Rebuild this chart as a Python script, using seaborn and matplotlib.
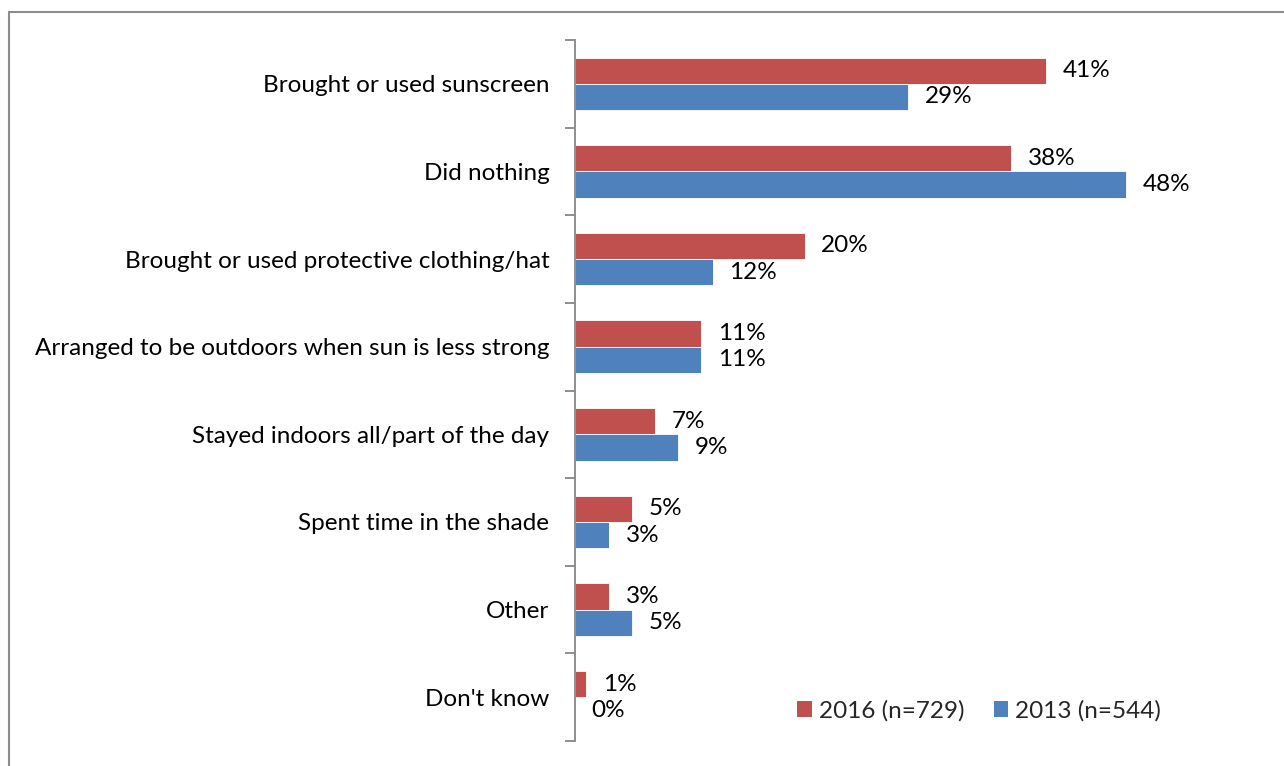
import matplotlib
matplotlib.use("Agg")
import matplotlib.pyplot as plt
import seaborn as sns
import pandas as pd
from matplotlib.patches import Rectangle, Patch

categories = [
    "Brought or used sunscreen",
    "Did nothing",
    "Brought or used protective clothing/hat",
    "Arranged to be outdoors when sun is less strong",
    "Stayed indoors all/part of the day",
    "Spent time in the shade",
    "Other",
    "Don't know",
]
series_names = ["2016 (n=729)", "2013 (n=544)"]
values_2016 = [41, 38, 20, 11, 7, 5, 3, 1]
values_2013 = [29, 48, 12, 11, 9, 3, 5, 0]
colors = ["#C0504D", "#4F81BD"]

df = pd.DataFrame({
    "category": categories * 2,
    "series": [series_names[0]] * len(categories) + [series_names[1]] * len(categories),
    "value": values_2016 + values_2013,
})

sns.set_theme(style="white")
plt.rcParams["font.family"] = ["Lato", "DejaVu Sans"]
FS = 17.5

W, H = 1284, 766
fig = plt.figure(figsize=(W / 100, H / 100), dpi=100)
ax = fig.add_axes([575 / W, 1 - 741 / H, 689 / W, 701 / H])

sns.barplot(
    data=df, y="category", x="value", hue="series",
    order=categories, hue_order=series_names, palette=colors,
    orient="h", width=0.6, ax=ax, legend=False,
    edgecolor="white", linewidth=0.6, saturation=1,
)

ax.set_xlim(0, 60)
ax.set_ylim(len(categories) - 0.5, -0.5)
ax.set_xlabel("")
ax.set_ylabel("")
ax.set_xticks([])

for c in ax.containers:
    ax.bar_label(c, fmt="%d%%", padding=12, fontsize=FS, color="black")

# category labels without tick marks; boundary ticks between categories
ax.tick_params(axis="y", which="major", length=0, pad=18.5, labelsize=FS, labelcolor="black")
ax.set_yticks([i - 0.5 for i in range(len(categories) + 1)], minor=True)
ax.tick_params(axis="y", which="minor", length=7, width=1.3, color="#868686", direction="out", left=True)

for s in ["top", "right", "bottom"]:
    ax.spines[s].set_visible(False)
ax.spines["left"].set_color("#868686")
ax.spines["left"].set_linewidth(1.3)

handles = [Patch(facecolor=col, edgecolor="none") for col in colors]
fig.legend(
    handles, series_names, loc="center left",
    bbox_to_anchor=(797 / W, 1 - 711 / H), ncol=2, frameon=False,
    fontsize=FS, handlelength=0.6, handleheight=0.65,
    handletextpad=0.3, columnspacing=1.2, borderaxespad=0, borderpad=0,
)

# outer chart frame
fig.patches.append(Rectangle((9 / W, -0.1), 1.2, 1.1 - 12 / H, transform=fig.transFigure,
                             fill=False, edgecolor="#8c8c8c", linewidth=1.5, figure=fig))

fig.savefig("out.png", dpi=100)
